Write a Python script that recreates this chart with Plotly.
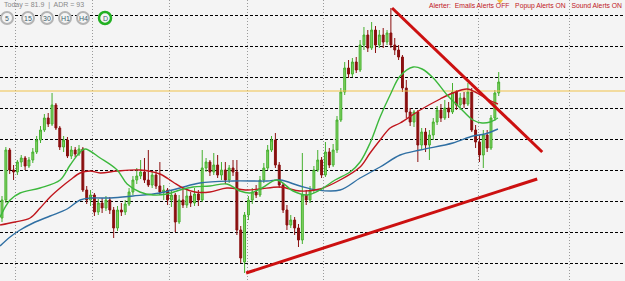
import plotly.graph_objects as go

# ---- candle data (price units) ----
opens = [110.45,110.63,111.13,110.93,110.91,111.01,111.05,110.97,111.03,111.11,
         111.23,111.33,111.45,111.39,111.58,111.35,111.16,111.23,111.07,111.13,
         111.09,111.14,110.73,110.63,110.68,110.51,110.60,110.55,110.63,110.53,
         110.35,110.53,110.51,110.59,110.71,110.83,110.87,110.91,110.83,110.78,
         110.88,110.77,110.71,110.73,110.63,110.68,110.41,110.63,110.58,110.67,
         110.60,110.69,110.63,110.95,111.01,110.91,110.98,110.88,110.93,110.83,
         110.95,110.91,110.33,110.01,110.48,110.63,110.71,110.68,110.83,110.95,
         111.13,111.23,110.98,110.78,110.53,110.38,110.43,110.35,110.23,110.68,
         110.63,110.73,110.93,111.03,110.88,111.11,110.98,111.13,111.43,111.71,
         111.95,111.89,112.01,111.93,112.18,112.28,112.15,112.33,112.18,112.28,
         112.21,112.30,112.18,112.13,112.06,111.75,111.51,111.41,111.51,111.18,
         111.31,111.18,111.28,111.41,111.53,111.45,111.55,111.51,111.71,111.58,
         111.65,111.59,111.71,111.33,111.21,111.08,111.28,111.15,111.45,111.70]
highs = [110.67,111.16,111.15,110.98,111.03,111.08,111.07,111.06,111.15,111.27,
         111.37,111.49,111.50,111.70,111.60,111.37,111.27,111.26,111.17,111.16,
         111.18,111.16,110.77,110.73,110.70,110.64,110.65,110.67,110.66,110.56,
         110.57,110.60,110.63,110.75,110.87,110.95,111.03,111.05,111.13,110.91,
         110.93,111.01,110.78,110.75,110.73,110.70,110.68,110.75,110.73,110.71,
         110.75,110.73,111.13,111.05,111.03,111.10,111.08,111.01,111.01,110.98,
         111.03,111.03,110.37,110.51,110.67,110.75,110.78,110.87,111.00,111.18,
         111.27,111.30,111.01,110.80,110.58,110.48,110.46,110.39,111.10,110.73,
         110.77,110.97,111.13,111.06,111.21,111.15,111.19,111.47,111.75,112.01,
         112.03,112.05,112.06,112.23,112.36,112.33,112.41,112.37,112.33,112.35,
         112.33,112.55,112.25,112.18,112.08,111.83,111.55,111.53,111.53,111.35,
         111.35,111.33,111.45,111.57,111.59,111.63,111.61,111.80,111.73,111.70,
         111.71,111.80,111.75,111.38,111.28,111.33,111.33,111.48,111.73,111.91]
lows = [110.41,110.60,110.89,110.83,110.88,110.96,110.93,110.95,111.00,111.09,
        111.20,111.31,111.36,111.37,111.33,111.13,111.11,111.05,111.04,111.06,
        111.07,110.71,110.59,110.57,110.47,110.48,110.50,110.52,110.49,110.25,
        110.32,110.47,110.48,110.57,110.68,110.79,110.84,110.80,110.76,110.75,
        110.74,110.68,110.63,110.58,110.56,110.31,110.39,110.55,110.55,110.56,
        110.57,110.57,110.61,110.91,110.87,110.88,110.85,110.83,110.79,110.80,
        110.87,110.28,110.00,109.90,110.43,110.59,110.65,110.66,110.80,110.93,
        111.11,110.95,110.75,110.50,110.33,110.35,110.28,110.16,110.19,110.58,
        110.60,110.70,110.91,110.85,110.86,110.95,110.96,111.10,111.41,111.68,
        111.85,111.86,111.90,111.91,112.13,112.11,112.13,112.10,112.15,112.15,
        112.18,112.15,112.08,112.03,111.71,111.45,111.37,111.36,111.01,111.13,
        111.11,111.03,111.23,111.38,111.41,111.43,111.45,111.49,111.53,111.53,
        111.55,111.57,111.31,111.15,111.01,110.95,111.11,111.13,111.42,111.67]
closes = [110.63,111.13,110.93,110.91,111.01,111.05,110.97,111.03,111.11,111.23,
          111.33,111.45,111.39,111.58,111.35,111.16,111.23,111.07,111.13,111.09,
          111.14,110.73,110.63,110.68,110.51,110.60,110.55,110.63,110.53,110.35,
          110.53,110.51,110.59,110.71,110.83,110.87,110.91,110.83,110.78,110.88,
          110.77,110.71,110.73,110.63,110.68,110.41,110.63,110.58,110.67,110.60,
          110.69,110.63,110.95,111.01,110.91,110.98,110.88,110.93,110.83,110.95,
          110.91,110.33,110.05,110.48,110.63,110.71,110.68,110.83,110.95,111.13,
          111.23,110.98,110.78,110.53,110.38,110.43,110.35,110.23,110.68,110.63,
          110.73,110.93,111.03,110.88,111.11,110.98,111.13,111.43,111.71,111.95,
          111.89,112.01,111.93,112.18,112.28,112.15,112.33,112.18,112.28,112.21,
          112.30,112.18,112.13,112.06,111.75,111.51,111.41,111.51,111.18,111.31,
          111.18,111.28,111.41,111.53,111.45,111.55,111.51,111.71,111.58,111.65,
          111.59,111.71,111.33,111.21,111.08,111.28,111.15,111.45,111.70,111.81]
bars = list(range(len(closes)))

# ---- moving averages (bar index, price) ----
ma_fast_x = [-0.5,2.1,4.7,9.9,15.1,17.7,20.3,21.6,25.5,29.9,32.5,35.8,39.2,42.9,46.2,49.6,
             54,58.4,61.8,64.4,67.5,71.4,75.6,79.2,82.6,86.5,90.4,93,95.6,98.2,100.8,
             103.4,106.8,109.1,112,115.6,119,122.3,124.7,126.8,128.8]
ma_fast_y = [110.46,110.63,110.70,110.75,110.83,110.98,111.11,111.14,111.05,110.93,110.79,
             110.71,110.68,110.69,110.73,110.76,110.77,110.79,110.72,110.70,110.75,110.83,
             110.72,110.68,110.73,110.83,110.91,111.01,111.20,111.46,111.68,111.87,111.96,
             111.94,111.85,111.68,111.55,111.43,111.40,111.41,111.45]
ma_mid_x = [-0.5,3.4,7.3,9.9,12.5,15.1,17.7,20.3,22.9,25.5,29.9,35.8,41,44.4,47,50.1,54,
            58.4,63.6,67,72.2,77.4,82.6,87.8,93,95.6,98.2,100.8,103.4,108.6,113.8,117.1,
            120.8,122.9,126,128.8]
ma_mid_y = [110.38,110.41,110.45,110.55,110.66,110.75,110.83,110.90,110.92,110.90,110.92,
            110.93,110.89,110.81,110.75,110.71,110.71,110.75,110.73,110.74,110.76,110.72,
            110.74,110.83,110.96,111.10,111.23,111.35,111.40,111.53,111.64,111.70,111.74,
            111.71,111.64,111.59]
ma_slow_x = [-0.5,2.1,4.7,8.1,12.5,16.9,20.3,22.9,28.1,34,41,46.2,51.4,60,68.8,72.2,77.4,
             81.8,87.8,93,98.2,103.4,108.6,117.1,122.3,125.4,128.8]
ma_slow_y = [110.17,110.26,110.33,110.40,110.47,110.54,110.63,110.65,110.65,110.67,110.70,
             110.75,110.80,110.82,110.82,110.83,110.77,110.73,110.73,110.85,110.96,111.08,
             111.13,111.20,111.27,111.29,111.34]

# ---- trend lines and levels ----
upper_trend_x = [101.3, 140.3]
upper_trend_y = [112.55, 111.11]
lower_trend_x = [63.4, 139.0]
lower_trend_y = [109.90, 110.84]
level_price = 111.72
h_grid = [110.00,110.31,110.62,110.93,111.24,111.55,111.86,112.17,112.48]
v_grid = [3.38,23.38,43.38,63.64,83.38,123.64,147.5]
tf_labels = ["5","15","30","H1","H4","D"]

fig = go.Figure()
fig.add_trace(go.Candlestick(
    x=bars, open=opens, high=highs, low=lows, close=closes,
    increasing=dict(line=dict(color="#45b02e", width=1), fillcolor="#86d466"),
    decreasing=dict(line=dict(color="#8a0f0f", width=1), fillcolor="#8a0f0f"),
    whiskerwidth=0, showlegend=False, hoverinfo="skip"))
fig.add_trace(go.Scatter(x=[-1, 170], y=[level_price, level_price], mode="lines",
                         line=dict(color="#f0c24a", width=1), showlegend=False, hoverinfo="skip"))
fig.add_trace(go.Scatter(x=ma_slow_x, y=ma_slow_y, mode="lines", line_shape="spline",
                         line=dict(color="#2f6fa3", width=1.4), showlegend=False, hoverinfo="skip"))
fig.add_trace(go.Scatter(x=ma_mid_x, y=ma_mid_y, mode="lines", line_shape="spline",
                         line=dict(color="#c0161d", width=1.4), showlegend=False, hoverinfo="skip"))
fig.add_trace(go.Scatter(x=ma_fast_x, y=ma_fast_y, mode="lines", line_shape="spline",
                         line=dict(color="#3cb83c", width=1.4), showlegend=False, hoverinfo="skip"))
for tx, ty in [(upper_trend_x, upper_trend_y), (lower_trend_x, lower_trend_y)]:
    fig.add_trace(go.Scatter(x=tx, y=ty, mode="lines", line=dict(color="#cc1010", width=3),
                             showlegend=False, hoverinfo="skip"))

W, H = 625, 281
# timeframe buttons (decoration, pixel-placed in paper space)
btn_cx = [7, 28, 47, 65, 83, 105]
cy, r = 18, 6
for lbl, cx in zip(tf_labels, btn_cx):
    active = lbl == "D"
    fig.add_shape(type="circle", xref="paper", yref="paper",
                  x0=(cx - r) / W, x1=(cx + r) / W, y0=1 - (cy + r) / H, y1=1 - (cy - r) / H,
                  line=dict(color="#22b022" if active else "#b4b4b4", width=2.5 if active else 2),
                  fillcolor="#f4f4f4", layer="above")
    fig.add_annotation(x=cx / W, y=1 - cy / H, xref="paper", yref="paper", text=lbl,
                       showarrow=False, borderpad=0, xanchor="center", yanchor="middle",
                       font=dict(size=7, color="#3d5f6f", family="Liberation Sans"))

fig.add_annotation(x=3 / W, y=1.0, xref="paper", yref="paper", xanchor="left", yanchor="top",
                   text="Today = 81.9  |  ADR = 93", showarrow=False, borderpad=0,
                   font=dict(size=7, color="#888", family="Liberation Sans"))
fig.add_annotation(x=623 / W, y=1 - 1 / H, xref="paper", yref="paper", xanchor="right", yanchor="top",
                   text="Alerter:  Emails Alerts OFF   Popup Alerts ON   Sound Alerts ON", showarrow=False,
                   borderpad=0, font=dict(size=6.8, color="#c0161d", family="Liberation Sans"))
# small yellow time marker at the top edge
fig.add_shape(type="path", xref="paper", yref="paper",
              path=f"M {497/W} 1 L {503/W} 1 L {500/W} {1-4/H} Z",
              fillcolor="#f0c24a", line=dict(width=0), layer="above")

fig.update_layout(
    width=W, height=H, margin=dict(l=0, r=0, t=0, b=0),
    paper_bgcolor="#f4f4f4", plot_bgcolor="#f4f4f4",
    xaxis=dict(range=[-0.52, 161.8], tickvals=v_grid, showticklabels=False, showgrid=True,
               gridcolor="#9a9a9a", griddash="1px,2px", gridwidth=1, zeroline=False,
               rangeslider=dict(visible=False), showline=False, fixedrange=True),
    yaxis=dict(range=[109.82, 112.63], tickvals=h_grid, showticklabels=False, showgrid=True,
               gridcolor="#000000", griddash="3px,2px", gridwidth=1, zeroline=False,
               showline=False, fixedrange=True),
)
fig.write_html("out.html")
